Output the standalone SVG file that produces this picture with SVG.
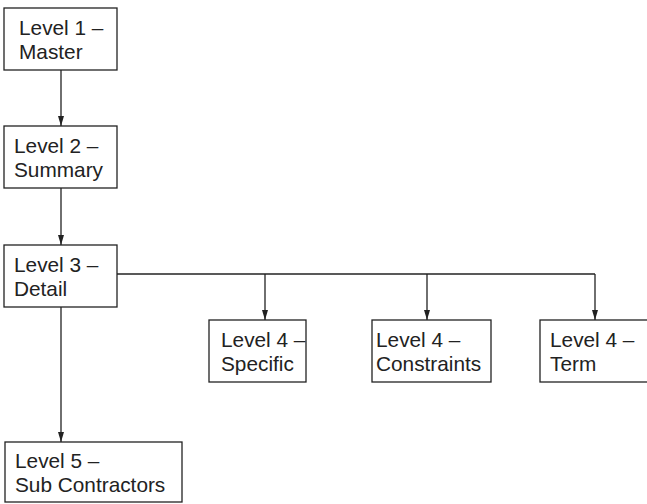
<svg xmlns="http://www.w3.org/2000/svg" width="647" height="504" viewBox="0 0 647 504">
  <style>
    .box { fill: #ffffff; stroke: #222222; stroke-width: 1.3; }
    .lbl { font-family: "Liberation Sans", Arial, sans-serif; font-size: 20.8px; fill: #222222; }
    .wire { fill: none; stroke: #222222; stroke-width: 1.3; }
  </style>
  <defs>
    <marker id="arrow" markerWidth="10" markerHeight="8" refX="10" refY="4" orient="auto" markerUnits="userSpaceOnUse" viewBox="0 0 10 8">
      <path d="M0,1 L10,4 L0,7 Z" fill="#222222"/>
    </marker>
  </defs>
  <rect width="647" height="504" fill="#ffffff"/>

  <g id="connectors">
    <line class="wire" x1="61" y1="70" x2="61" y2="126" marker-end="url(#arrow)"/>
    <line class="wire" x1="61" y1="188" x2="61" y2="245" marker-end="url(#arrow)"/>
    <line class="wire" x1="61" y1="307" x2="61" y2="442" marker-end="url(#arrow)"/>
    <polyline class="wire" points="117,274 595,274"/>
    <line class="wire" x1="265" y1="274" x2="265" y2="320" marker-end="url(#arrow)"/>
    <line class="wire" x1="427" y1="274" x2="427" y2="320" marker-end="url(#arrow)"/>
    <line class="wire" x1="595" y1="274" x2="595" y2="320" marker-end="url(#arrow)"/>
  </g>

  <g id="level1">
    <rect class="box" x="4" y="8" width="113" height="62"/>
    <text class="lbl" x="19" y="35">Level 1 –</text>
    <text class="lbl" x="19" y="59">Master</text>
  </g>
  <g id="level2">
    <rect class="box" x="4" y="126" width="113" height="62"/>
    <text class="lbl" x="14" y="153">Level 2 –</text>
    <text class="lbl" x="14" y="177">Summary</text>
  </g>
  <g id="level3">
    <rect class="box" x="4" y="245" width="113" height="62"/>
    <text class="lbl" x="14" y="272">Level 3 –</text>
    <text class="lbl" x="14" y="296">Detail</text>
  </g>
  <g id="level4-specific">
    <rect class="box" x="209" y="320" width="97" height="62"/>
    <text class="lbl" x="221" y="347">Level 4 –</text>
    <text class="lbl" x="221" y="371">Specific</text>
  </g>
  <g id="level4-constraints">
    <rect class="box" x="372" y="320" width="119" height="62"/>
    <text class="lbl" x="376" y="347">Level 4 –</text>
    <text class="lbl" x="376" y="371">Constraints</text>
  </g>
  <g id="level4-term">
    <rect class="box" x="540" y="320" width="112" height="62"/>
    <text class="lbl" x="550" y="347">Level 4 –</text>
    <text class="lbl" x="550" y="371">Term</text>
  </g>
  <g id="level5">
    <rect class="box" x="5" y="442" width="177" height="60"/>
    <text class="lbl" x="15" y="468">Level 5 –</text>
    <text class="lbl" x="15" y="492">Sub Contractors</text>
  </g>
</svg>
